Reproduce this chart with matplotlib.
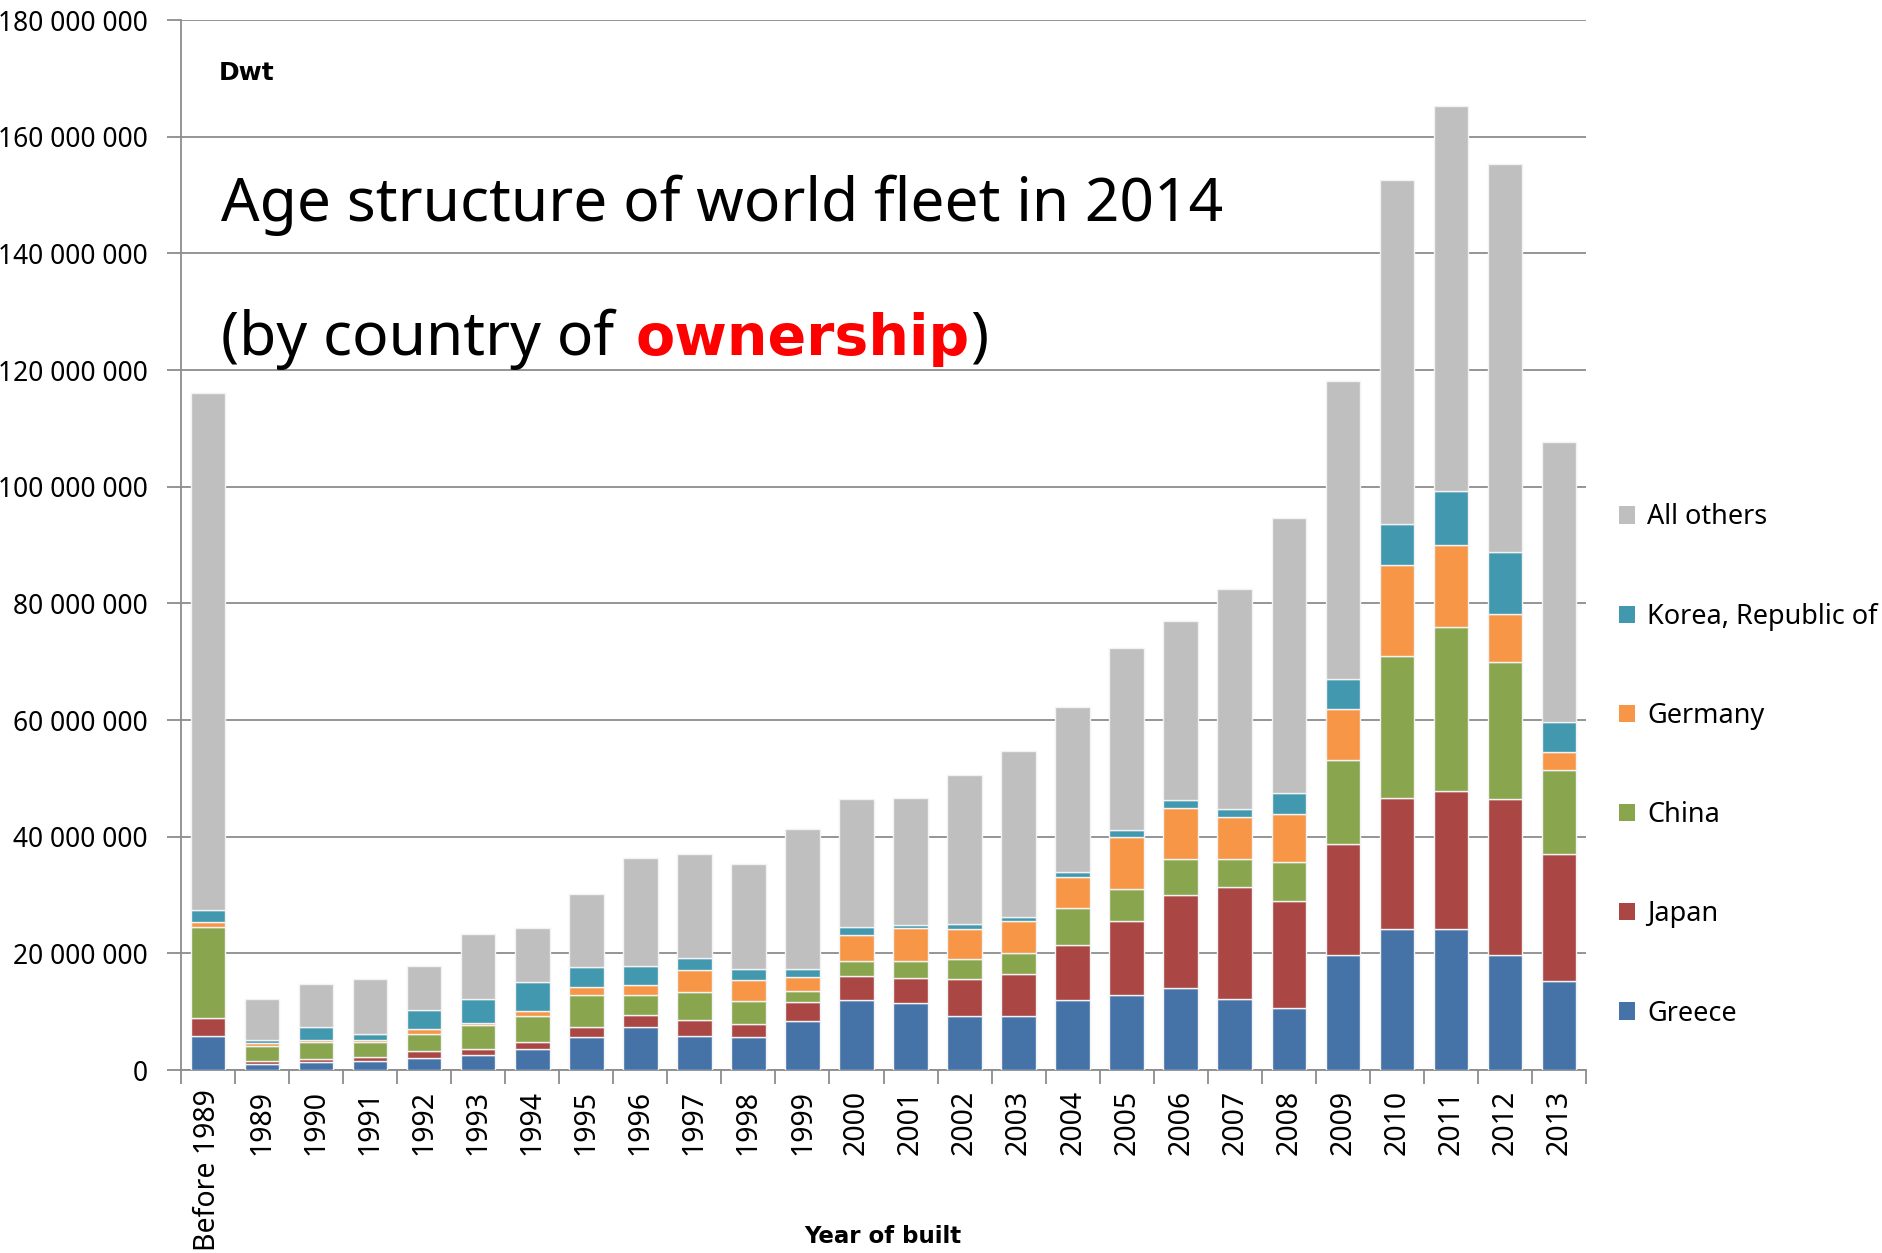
import matplotlib.pyplot as plt
from matplotlib.patches import Patch
from matplotlib.ticker import FuncFormatter, MultipleLocator
import numpy as np

plt.rcParams['font.family'] = ['Noto Sans', 'DejaVu Sans']
BOLD = ['DejaVu Sans']

years = ['Before 1989'] + [str(y) for y in range(1989, 2014)]

# deadweight tonnage by country of ownership, in million dwt
greece = [5.9, 1.1, 1.4, 1.6, 2.1, 2.5, 3.6, 5.6, 7.3, 5.9, 5.6, 8.4, 12.0, 11.5,
          9.3, 9.3, 12.0, 12.9, 14.1, 12.2, 10.6, 19.8, 24.1, 24.1, 19.7, 15.2]
japan = [3.1, 0.5, 0.5, 0.7, 1.1, 1.1, 1.2, 1.8, 2.2, 2.7, 2.3, 3.3, 4.1, 4.3,
         6.3, 7.2, 9.4, 12.6, 15.9, 19.1, 18.3, 19.0, 22.6, 23.7, 26.8, 21.9]
china = [15.5, 2.5, 2.9, 2.5, 2.9, 4.1, 4.5, 5.5, 3.4, 4.7, 3.9, 1.8, 2.6, 2.9,
         3.4, 3.6, 6.3, 5.6, 6.2, 4.9, 6.7, 14.3, 24.2, 28.1, 23.5, 14.3]
germany = [0.9, 0.6, 0.4, 0.4, 0.9, 0.4, 0.9, 1.3, 1.6, 3.8, 3.7, 2.5, 4.5, 5.6,
           5.1, 5.4, 5.4, 8.8, 8.8, 7.2, 8.3, 8.8, 15.7, 14.1, 8.2, 3.2]
korea = [2.1, 0.5, 2.1, 0.9, 3.3, 4.1, 4.9, 3.4, 3.3, 2.1, 1.9, 1.4, 1.4, 0.5,
         0.9, 0.8, 0.9, 1.3, 1.3, 1.4, 3.6, 5.2, 7.0, 9.2, 10.6, 5.1]
totals = [116.0, 12.1, 14.7, 15.6, 17.9, 23.4, 24.3, 30.2, 36.3, 37.1, 35.4, 41.3,
          46.4, 46.6, 50.6, 54.7, 62.3, 72.3, 77.0, 82.4, 94.6, 118.1, 152.6,
          165.2, 155.3, 107.7]

series = [
    ('Greece', greece, '#4572A7'),
    ('Japan', japan, '#AA4643'),
    ('China', china, '#89A54E'),
    ('Germany', germany, '#F79646'),
    ('Korea, Republic of', korea, '#4198AF'),
]
known = np.sum([np.array(s[1]) for s in series], axis=0)
others = np.array(totals) - known
series.append(('All others', list(others), '#BFBFBF'))

fig = plt.figure(figsize=(18.83, 12.53), dpi=100)
ax = fig.add_axes([0.0961, 0.146, 0.7462, 0.838])

x = np.arange(len(years))
bottom = np.zeros(len(years))
handles = []
for name, vals, color in series:
    v = np.array(vals) * 1e6
    ax.bar(x, v, 0.64, bottom=bottom, color=color, edgecolor='#f2f2f2',
           linewidth=1.0, zorder=3)
    bottom += v
    handles.append(Patch(facecolor=color, edgecolor='none', label=name))

ax.set_ylim(0, 180e6)
ax.set_xlim(-0.5, len(years) - 0.5)
ax.yaxis.set_major_locator(MultipleLocator(20e6))
ax.yaxis.set_major_formatter(FuncFormatter(
    lambda v, p: '{:,.0f}'.format(v).replace(',', ' ')))
ax.yaxis.grid(True, color='#8c8c8c', linewidth=1.3, zorder=0)

for s in ['top', 'right']:
    ax.spines[s].set_visible(False)
for s in ['left', 'bottom']:
    ax.spines[s].set_color('#8c8c8c')
    ax.spines[s].set_linewidth(1.3)

ax.tick_params(axis='y', length=10, width=1.3, color='#8c8c8c', labelsize=19,
               pad=14)
ax.set_xticks(x)
ax.set_xticklabels(years, rotation=90, fontsize=20.5)
ax.set_xticks(np.arange(len(years) + 1) - 0.5, minor=True)
ax.tick_params(axis='x', which='major', length=0, pad=14)
ax.tick_params(axis='x', which='minor', length=10, width=1.3, color='#8c8c8c')

ax.legend(handles=handles[::-1], loc='center left', bbox_to_anchor=(1.006, 0.290),
          frameon=False, fontsize=19.5, labelspacing=2.63, handlelength=0.6,
          handleheight=0.6, handletextpad=0.45)

fig.text(0.1163, 0.936, 'Dwt', fontsize=18, fontweight='bold', family=BOLD)
fig.text(0.469, 0.008, 'Year of built', fontsize=16.5, fontweight='bold',
         family=BOLD, ha='center')

fig.text(0.1174, 0.8236, 'Age structure of world fleet in 2014', fontsize=43.5)
renderer = fig.canvas.get_renderer()
t1 = fig.text(0.1174, 0.7167, '(by country of ', fontsize=43.5)
x1 = fig.transFigure.inverted().transform(
    (t1.get_window_extent(renderer).x1, 0))[0]
t2 = fig.text(x1 + 0.003, 0.7167, 'ownership', fontsize=41, fontweight='bold',
              family=BOLD, color='#FF0000')
x2 = fig.transFigure.inverted().transform(
    (t2.get_window_extent(renderer).x1, 0))[0]
fig.text(x2, 0.7167, ')', fontsize=43.5)

fig.savefig('out.png', dpi=100)
